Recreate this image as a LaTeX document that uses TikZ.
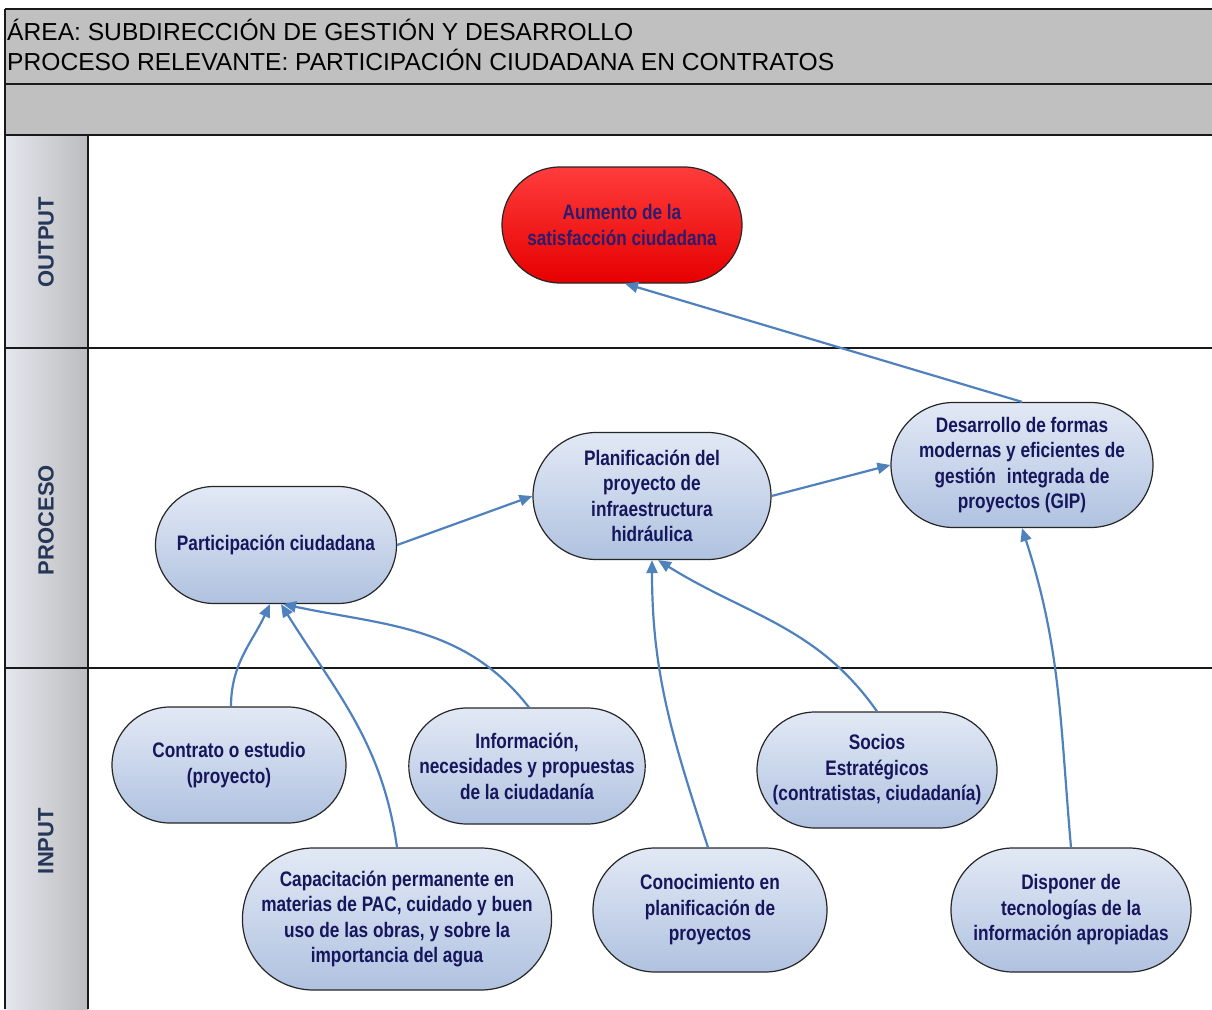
\documentclass[tikz,border=0pt]{standalone}
\usepackage{fontspec}
\setmainfont{Liberation Sans}
\newfontfamily\narrowsans[FakeStretch=0.82]{Liberation Sans}
\usetikzlibrary{shapes.misc,arrows.meta}
\definecolor{hdrgray}{RGB}{192,192,192}
\definecolor{linkblue}{RGB}{79,129,189}
\definecolor{navytext}{RGB}{22,22,92}
\definecolor{goaltext}{RGB}{45,28,110}
\definecolor{lanetext}{RGB}{38,54,88}
\definecolor{nodetop}{RGB}{226,233,245}
\definecolor{nodebot}{RGB}{176,194,224}
\definecolor{redtop}{RGB}{255,60,60}
\definecolor{redbot}{RGB}{230,0,0}
\definecolor{laneleft}{RGB}{228,231,238}
\definecolor{laneright}{RGB}{188,188,190}
\begin{document}
\begin{tikzpicture}[x=1pt,y=1pt,
  stage/.style={rounded rectangle, draw=black!85, line width=1.2pt,
    top color=nodetop, bottom color=nodebot, inner sep=0pt, align=center,
    font=\narrowsans\bfseries\fontsize{21}{25.5}\selectfont, text=navytext},
  goal/.style={stage, top color=redtop, bottom color=redbot, text=goaltext},
  link/.style={draw=linkblue, line width=2.2pt, -{Triangle[length=13pt,width=11pt]}},
  lanelabel/.style={rotate=90, font=\bfseries\fontsize{22}{26}\selectfont, text=lanetext},
  titletext/.style={anchor=base west, inner sep=0pt, font=\fontsize{24.6}{30}\selectfont},
  rule/.style={line width=2pt, draw=black!90}
]
\useasboundingbox (0,0) rectangle (1212,-1009);

% header band
\fill[hdrgray] (5,-9) rectangle (1212,-135);
% lane label column
\shade[left color=laneleft, right color=laneright] (5,-135) rectangle (88,-1009);

% frame lines
\draw[rule] (5,-9) -- (1212,-9);
\draw[rule] (5,-84) -- (1212,-84);
\draw[rule] (5,-135) -- (1212,-135);
\draw[rule] (5,-348) -- (1212,-348);
\draw[rule] (5,-668) -- (1212,-668);
\draw[rule] (5,-9) -- (5,-1009);
\draw[rule] (88,-135) -- (88,-1009);

% titles
\node[titletext] (title1) at (7,-40) {ÁREA: SUBDIRECCIÓN DE GESTIÓN Y DESARROLLO};
\node[titletext] (title2) at (7,-70) {PROCESO RELEVANTE: PARTICIPACIÓN CIUDADANA EN CONTRATOS};

% lane labels
\node[lanelabel] (lout) at (46,-242) {OUTPUT};
\node[lanelabel] (lpro) at (46,-520) {PROCESO};
\node[lanelabel] (linp) at (46,-841) {INPUT};

% output
\node[goal, minimum width=240pt, minimum height=116pt] (aum) at (622,-225)
  {Aumento de la\\satisfacción ciudadana};

% process
\node[stage, minimum width=241pt, minimum height=117pt] (part) at (276,-545)
  {Participación ciudadana};
\node[stage, minimum width=238pt, minimum height=127pt] (plan) at (652,-496)
  {Planificación del\\proyecto de\\infraestructura\\hidráulica};
\node[stage, minimum width=262pt, minimum height=125pt] (desa) at (1022,-465)
  {Desarrollo de formas\\modernas y eficientes de\\gestión\hspace{0.3em} integrada de\\proyectos (GIP)};

% inputs
\node[stage, minimum width=234pt, minimum height=116pt] (contr) at (229,-765)
  {Contrato o estudio\\(proyecto)};
\node[stage, minimum width=232pt, minimum height=116pt] (info) at (527,-766)
  {Información,\\necesidades y propuestas\\de la ciudadanía};
\node[stage, minimum width=240pt, minimum height=116pt] (socios) at (877,-770)
  {Socios\\Estratégicos\\(contratistas, ciudadanía)};
\node[stage, minimum width=298pt, minimum height=142pt] (capa) at (397,-919)
  {Capacitación permanente en\\materias de PAC, cuidado y buen\\uso de las obras, y sobre la\\importancia del agua};
\node[stage, minimum width=234pt, minimum height=124pt] (cono) at (710,-910)
  {Conocimiento en\\planificación de\\proyectos};
\node[stage, minimum width=240pt, minimum height=124pt] (disp) at (1071,-910)
  {Disponer de\\tecnologías de la\\información apropiadas};

% connectors
\draw[link] (desa.north) -- ([xshift=3pt]aum.south);
\draw[link] (part.east) -- (plan.west);
\draw[link] (plan.east) -- (desa.west);
\draw[link] ([xshift=2pt]contr.north) to[out=90,in=-115] ([xshift=-6pt]part.south);
\draw[link] (capa.north) to[out=98,in=-58] ([xshift=5pt]part.south);
\draw[link] ([xshift=2pt]info.north) to[out=128,in=-12] ([xshift=7pt]part.south);
\draw[link] (socios.north) to[out=125,in=-32] ([xshift=6pt]plan.south);
\draw[link] ([xshift=-2pt]cono.north) to[out=108,in=-90] (plan.south);
\draw[link] (disp.north) to[out=95,in=-72] (desa.south);
\end{tikzpicture}
\end{document}
